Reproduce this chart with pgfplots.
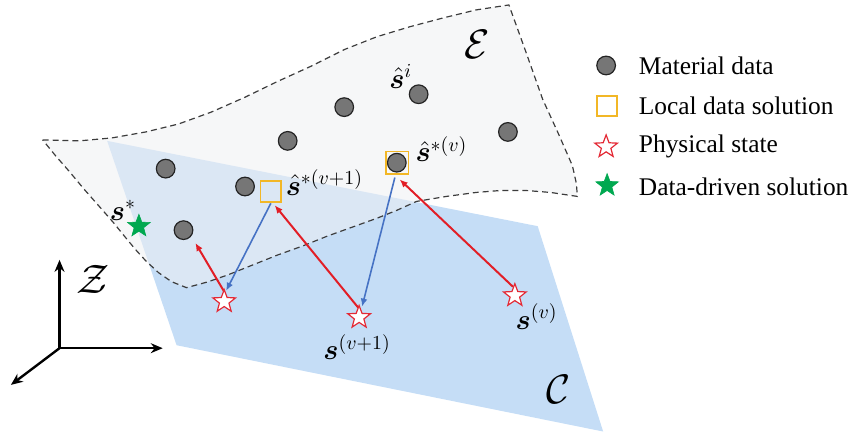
\documentclass[border=0pt]{standalone}
\usepackage{amsmath}
\usepackage{bm}
\usepackage{pgfplots}
\pgfplotsset{compat=1.18}
\usepackage{fontspec}
\setmainfont{Liberation Serif}
\usetikzlibrary{arrows.meta}

\definecolor{planeblue}{RGB}{197,221,246}
\definecolor{efill}{RGB}{238,240,243}
\definecolor{dashgray}{RGB}{60,60,60}
\definecolor{dotgray}{RGB}{118,118,118}
\definecolor{dotedge}{RGB}{35,35,35}
\definecolor{sqorange}{RGB}{242,183,38}
\definecolor{starred}{RGB}{228,40,52}
\definecolor{arrred}{RGB}{226,30,38}
\definecolor{arrblue}{RGB}{70,114,196}
\definecolor{stargreen}{RGB}{0,168,80}

\pgfdeclareplotmark{ostar}{%
 \pgfpathmoveto{\pgfpointpolar{90}{\pgfplotmarksize}}%
 \pgfpathlineto{\pgfpointpolar{126}{0.42\pgfplotmarksize}}%
 \pgfpathlineto{\pgfpointpolar{162}{\pgfplotmarksize}}%
 \pgfpathlineto{\pgfpointpolar{198}{0.42\pgfplotmarksize}}%
 \pgfpathlineto{\pgfpointpolar{234}{\pgfplotmarksize}}%
 \pgfpathlineto{\pgfpointpolar{270}{0.42\pgfplotmarksize}}%
 \pgfpathlineto{\pgfpointpolar{306}{\pgfplotmarksize}}%
 \pgfpathlineto{\pgfpointpolar{342}{0.42\pgfplotmarksize}}%
 \pgfpathlineto{\pgfpointpolar{18}{\pgfplotmarksize}}%
 \pgfpathlineto{\pgfpointpolar{54}{0.42\pgfplotmarksize}}%
 \pgfpathclose
 \pgfusepathqfillstroke
}

\begin{document}
\begin{tikzpicture}
\begin{axis}[
  scale only axis, width=427.5pt, height=218.5pt,
  xmin=0, xmax=855, ymin=0, ymax=437, y dir=reverse,
  hide axis, clip=false,
  every axis plot post/.append style={forget plot},
]
% invisible frame for bounding box
\addplot[draw=none] coordinates {(0,0) (855,437)};

% constraint set C (blue plane)
\addplot[fill=planeblue, draw=none] coordinates {(108,142) (542,228) (608,435) (178,348)} -- cycle;

% material data set E (fill)
\addplot[fill=efill, fill opacity=0.55, draw=none] coordinates {
 (43,141) (80,142) (113,139) (147,133) (180,125) (213,113) (247,98) (280,82)
 (313,67) (347,50) (380,37) (413,27) (447,18) (480,10) (513,5)
 (530,52) (547,100) (563,135) (577,167) (581,185) (582,198)
 (555,194) (530,192) (505,192) (480,194) (450,198) (420,203) (400,212)
 (380,220) (355,229) (330,238) (305,248) (280,257) (255,267) (230,277)
 (210,284) (188,290) (173,284) (160,275) (147,263) (137,252) (127,240)
 (114,224) (100,208) (85,191) (70,173) (56,157)} -- cycle;
% E outline
\addplot[dashgray, line width=0.6pt, dash pattern=on 3pt off 2pt] coordinates {
 (43,141) (80,142) (113,139) (147,133) (180,125) (213,113) (247,98) (280,82)
 (313,67) (347,50) (380,37) (413,27) (447,18) (480,10) (513,5)
 (530,52) (547,100) (563,135) (577,167) (581,185) (582,198)
 (555,194) (530,192) (505,192) (480,194) (450,198) (420,203) (400,212)
 (380,220) (355,229) (330,238) (305,248) (280,257) (255,267) (230,277)
 (210,284) (188,290) (173,284) (160,275) (147,263) (137,252) (127,240)
 (114,224) (100,208) (85,191) (70,173) (56,157)} -- cycle;

% reference frame Z
\addplot[black, line width=1.2pt, -{Stealth[length=6pt,width=5pt]}] coordinates {(60,351) (60,262)};
\addplot[black, line width=1.2pt, -{Stealth[length=6pt,width=5pt]}] coordinates {(59,351) (164,351)};
\addplot[black, line width=1.2pt, -{Stealth[length=6pt,width=5pt]}] coordinates {(60,351) (11,388)};

% material data points
\addplot[only marks, mark=*, mark size=4.7pt, mark options={fill=dotgray, draw=dotedge, line width=0.6pt}]
 coordinates {(167,170) (247,188) (185,232) (290,142) (347,108) (422,95) (512,133) (400,164)};

% local data solutions
\addplot[only marks, mark=square, mark size=5.2pt, mark options={draw=sqorange, line width=0.8pt}]
 coordinates {(273,193)};
\addplot[only marks, mark=square, mark size=5.7pt, mark options={draw=sqorange, line width=0.8pt}]
 coordinates {(400.5,164)};

% arrows: physical state -> local data (red)
\addplot[arrred, line width=1pt, -{Latex[length=4pt,width=3.5pt]}] coordinates {(226,294) (197,245)};
\addplot[arrred, line width=1pt, -{Latex[length=4pt,width=3.5pt]}] coordinates {(361,310) (277,207)};
\addplot[arrred, line width=1pt, -{Latex[length=4pt,width=3.5pt]}] coordinates {(517,289) (403,181)};
% arrows: local data -> physical state (blue)
\addplot[arrblue, line width=0.8pt, -{Latex[length=4pt,width=3.5pt]}] coordinates {(273,205) (228,293)};
\addplot[arrblue, line width=0.8pt, -{Latex[length=4pt,width=3.5pt]}] coordinates {(398,179) (365,309)};

% physical states
\addplot[only marks, mark=ostar, mark size=6pt, mark options={draw=starred, fill=white, line width=0.6pt}]
 coordinates {(226,304) (362,320) (519,298)};
% data-driven solution
\addplot[only marks, mark=ostar, mark size=6pt, mark options={draw=stargreen, fill=stargreen, line width=0.3pt}]
 coordinates {(140,228)};

% labels
\node[font=\fontsize{20}{22}\selectfont] at (axis cs:481,45) {$\mathcal{E}$};
\node[font=\fontsize{20}{22}\selectfont] at (axis cs:563,393) {$\mathcal{C}$};
\node[font=\fontsize{20}{22}\selectfont] at (axis cs:94,282) {$\mathcal{Z}$};
\node[font=\fontsize{14.5}{16}\selectfont, inner sep=1pt] at (axis cs:404,77) {$\hat{\bm{s}}^{i}$};
\node[font=\fontsize{14.5}{16}\selectfont] at (axis cs:445,150) {$\hat{\bm{s}}^{*(v)}$};
\node[font=\fontsize{14.5}{16}\selectfont] at (axis cs:327,184) {$\hat{\bm{s}}^{*(v+1)}$};
\node[font=\fontsize{14.5}{16}\selectfont] at (axis cs:124,212) {$\bm{s}^{*}$};
\node[font=\fontsize{14.5}{16}\selectfont] at (axis cs:360,350) {$\bm{s}^{(v+1)}$};
\node[font=\fontsize{14.5}{16}\selectfont] at (axis cs:541,319) {$\bm{s}^{(v)}$};

% legend
\addplot[only marks, mark=*, mark size=4.7pt, mark options={fill=dotgray, draw=dotedge, line width=0.6pt}]
 coordinates {(611,66)};
\addplot[only marks, mark=square, mark size=5pt, mark options={draw=sqorange, line width=0.8pt}]
 coordinates {(612,107)};
\addplot[only marks, mark=ostar, mark size=6pt, mark options={draw=starred, fill=white, line width=0.6pt}]
 coordinates {(611,148)};
\addplot[only marks, mark=ostar, mark size=6pt, mark options={draw=stargreen, fill=stargreen, line width=0.3pt}]
 coordinates {(612,187)};
\node[anchor=west, font=\fontsize{12.8}{14}\selectfont] at (axis cs:637,66) {Material data};
\node[anchor=west, font=\fontsize{12.8}{14}\selectfont] at (axis cs:637,107) {Local data solution};
\node[anchor=west, font=\fontsize{12.8}{14}\selectfont] at (axis cs:637,148) {Physical state};
\node[anchor=west, font=\fontsize{12.8}{14}\selectfont] at (axis cs:637,188) {Data-driven solution};
\end{axis}
\end{tikzpicture}
\end{document}
